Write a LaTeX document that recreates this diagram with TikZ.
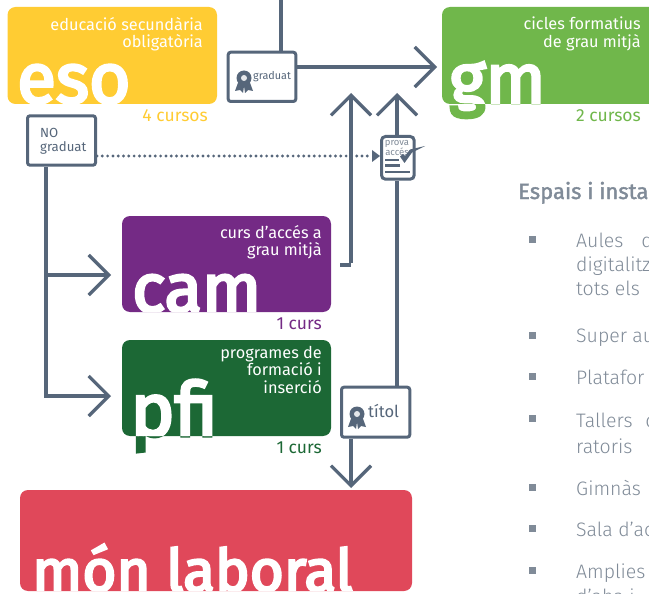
\documentclass[tikz,border=0pt]{standalone}
\usepackage{fontspec}
\setmainfont{Fira Sans Light}
\newfontfamily\bigfont[FakeBold=4]{Fira Sans}
\newfontfamily\headfont[FakeBold=1.6]{Fira Sans}
\newfontfamily\regfont{Fira Sans}
\usetikzlibrary{arrows.meta}
\definecolor{lin}{HTML}{56667A}
\definecolor{cEso}{HTML}{FFCC33}
\definecolor{cGm}{HTML}{70B74B}
\definecolor{cCam}{HTML}{742A85}
\definecolor{cPfi}{HTML}{1C6835}
\definecolor{cMon}{HTML}{E0485A}
\definecolor{txtg}{HTML}{808B98}
\tikzset{
  x=1pt,y=-1pt,
  conn/.style={draw=lin,line width=3.2pt},
  chev/.style={conn,-{Straight Barb[length=20pt,width=40pt,line width=3.2pt]}},
  tagbox/.style={draw=lin,line width=3pt,rounded corners=2.5pt,fill=white,inner sep=0pt,anchor=north west},
  small/.style={inner sep=0pt,font=\fontsize{16.3}{17.3}\regfont,text=white,align=right,anchor=north east},
  years/.style={inner sep=0pt,font=\fontsize{17.5}{17.5}\regfont,anchor=base east},
  big/.style={inner sep=0pt,anchor=base west},
  body/.style={inner sep=0pt,anchor=base west,text=txtg,font=\fontsize{19.5}{19.5}\selectfont},
  bul/.style={fill=txtg,draw=none,minimum size=7pt,inner sep=0pt},
}
\newcommand{\rosette}[2]{%
  \fill[lin] (#1-5,#2+2) -- (#1-9,#2+13) -- (#1-4,#2+12) -- (#1-1,#2+15) -- (#1,#2+8) -- (#1+1,#2+15) -- (#1+4,#2+12) -- (#1+9,#2+13) -- (#1+5,#2+2) -- cycle;
  \fill[lin] (#1,#2) circle[radius=7.5pt];
  \fill[white!85!lin] (#1,#2) circle[radius=3pt];
}
\begin{document}
\begin{tikzpicture}
\useasboundingbox (0,0) rectangle (649,594);
\clip (0,0) rectangle (649,594);
\fill[white] (0,0) rectangle (649,594);

% boxes
\fill[cEso,rounded corners=8pt] (7.5,7) rectangle (217,104);
\fill[cGm,rounded corners=8pt] (442,7) rectangle (660,104);
\fill[cCam,rounded corners=8pt] (122,216) rectangle (331,312);
\fill[cPfi,rounded corners=8pt] (122,340) rectangle (331,436);
\fill[cMon,rounded corners=8pt] (20,490) rectangle (412,591);

% coloured descenders
\node[big,text=cGm,font=\fontsize{70}{70}\bigfont] at (449,103) {gm};
\node[big,text=cPfi,font=\fontsize{75}{75}\bigfont] at (130,436) {pfi};

% white big words, clipped to their boxes
\begin{scope}\clip[rounded corners=8pt] (7.5,7) rectangle (217,104);
\node[big,text=white,font=\fontsize{71}{71}\bigfont] (eso) at (17,103) {eso};\end{scope}
\begin{scope}\clip[rounded corners=8pt] (442,7) rectangle (660,104);
\node[big,text=white,font=\fontsize{70}{70}\bigfont] (gm) at (449,103) {gm};\end{scope}
\begin{scope}\clip[rounded corners=8pt] (122,216) rectangle (331,312);
\node[big,text=white,font=\fontsize{69}{69}\bigfont] (cam) at (132,312) {cam};\end{scope}
\begin{scope}\clip[rounded corners=8pt] (122,340) rectangle (331,436);
\node[big,text=white,font=\fontsize{75}{75}\bigfont] (pfi) at (130,436) {pfi};\end{scope}
\begin{scope}\clip[rounded corners=8pt] (20,490) rectangle (412,591);
\node[big,text=white,font=\fontsize{58.5}{58.5}\bigfont] (mon) at (32,591) {món laboral};\end{scope}

% small labels
\node[small] (lEso) at (203,17) {educació secundària\\obligatòria};
\node[small] (lGm) at (641,17) {cicles formatius\hspace{5pt}\\de grau mitjà};
\node[small] (lCam) at (322,225) {curs d’accés a\\grau mitjà};
\node[small] (lPfi) at (322,346) {programes de\\formació i\hspace{4pt}\\inserció};
\node[years,text=cEso] (yEso) at (208,122) {4 cursos};
\node[years,text=cGm] (yGm) at (641,122) {2 cursos};
\node[years,text=cCam] (yCam) at (322,329) {1 curs};
\node[years,text=cPfi] (yPfi) at (322,453) {1 curs};

% tag boxes
\node[tagbox,minimum width=67.6pt,minimum height=49.3pt] (grad) at (226.7,50.7) {};
\node[tagbox,minimum width=68pt,minimum height=49.4pt] (nog) at (26,114.3) {};
\node[tagbox,minimum width=68.3pt,minimum height=50pt] (tit) at (340,385.7) {};
\node[tagbox,minimum width=32.7pt,minimum height=42.7pt,rounded corners=4pt] (doc) at (380,135) {};
\coordinate (top) at (281,-2);
\coordinate (camout) at (340,265);
\coordinate (camturn) at (351,265);
\coordinate (upA) at (351,93);
\coordinate (upB) at (397,93);
\coordinate (gmtip) at (437,67);
\coordinate (camtip) at (111,275);
\coordinate (pfitip) at (111,396);
\coordinate (turn1) at (46,275);
\coordinate (turn2) at (46,396);
\coordinate (montip) at (351,488);

\draw[conn] (top) -- (grad.north -| top);
\draw[chev] (grad.east |- gmtip) -- (gmtip);
\draw[conn] (camout) -- (camturn);
\draw[chev] ([yshift=1.6pt]camturn) -- (upA);
\draw[conn] (tit.north -| upB) -- (doc.south -| upB);
\draw[chev] (doc.north -| upB) -- (upB);
\draw[conn] (nog.south -| turn1) -- (turn2);
\draw[chev] (turn1) -- (camtip);
\draw[chev] ([xshift=-1.6pt]turn2) -- (pfitip);
\draw[chev] (tit.south -| montip) -- (montip);
\draw[lin,line width=3.2pt,line cap=round,dash pattern=on 0pt off 5.3pt] (nog.east |- 0,156) -- (372,156);
\fill[lin] (380,156) -- (372,150) -- (372,162) -- cycle;

% tag contents
\rosette{244}{78}
\node[inner sep=0pt,anchor=base west,text=lin,font=\fontsize{10.8}{10.8}\regfont] (tg) at (253,80) {graduat};
\node[inner sep=0pt,anchor=north west,text=lin,align=left,font=\fontsize{13.2}{14}\regfont] (tn) at (40,128) {NO\\graduat};
\rosette{357}{414}
\node[inner sep=0pt,anchor=base west,text=lin,font=\fontsize{16.5}{16.5}\regfont] (tt) at (368,417) {títol};

% exam sheet icon
\node[inner sep=0pt,align=center,text=txtg,font=\fontsize{9.5}{8.8}\regfont] (tp) at (397,148) {prova\\accés};
\draw[lin,line width=2.4pt] (385,160) -- (399,160) (385,165.5) -- (400,165.5) (385,172) -- (410,172);
\fill[lin] (400,156.5) -- (404.5,163) -- (412,152.5) -- (425,146) -- (410,149.5) -- (405,156) -- (403,154) -- cycle;

% right text
\node[inner sep=0pt,anchor=base west,text=txtg,font=\fontsize{22}{22}\headfont] (h) at (518,199) {Espais i insta};
\node[body] (b1a) at (576,247) {Aules \hspace{7pt} d};
\node[body] (b1b) at (576,271) {digitalitz};
\node[body] (b1c) at (576,295) {tots els};
\node[body] (b2) at (576,342) {Super au};
\node[body] (b3) at (576,384) {Platafor};
\node[body] (b4a) at (576,427) {Tallers \hspace{2pt} d};
\node[body] (b4b) at (576,453) {ratoris};
\node[body] (b5) at (576,495) {Gimnàs};
\node[body] (b6) at (576,536) {Sala d’ac};
\node[body] (b7) at (576,578) {Amplies};
\node[body] (b8) at (576,603) {d’aha i};
\foreach \yy in {239,335,376,418,487,528,570}
  \node[bul] at (532.5,\yy) {};
\end{tikzpicture}
\end{document}
